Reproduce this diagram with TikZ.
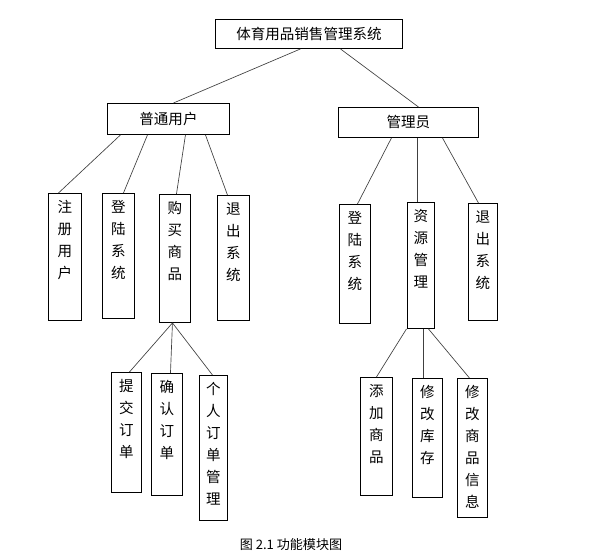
\documentclass[tikz,border=0pt]{standalone}
\usepackage{fontspec}
\usepackage{tikz}
\newfontfamily\cjk{Noto Sans CJK SC}

\newdimen\pxu \pxu=0.75pt
% vertical text column: height, width, lines
\newcommand{\vcol}[3]{\parbox[t][#1\pxu][t]{#2\pxu}{\centering\vspace*{7\pxu}#3}}

\begin{document}
\begin{tikzpicture}[
    x=0.75pt, y=-0.75pt,
    module/.style={draw, line width=0.7pt, inner sep=0pt, anchor=north west},
    boxsize/.style 2 args={minimum width=#1*0.75pt, minimum height=#2*0.75pt},
    headbox/.style={module, font=\cjk\fontsize{10.9}{13}\selectfont},
    leaf/.style={module, font=\cjk\fontsize{10.9}{16.5}\selectfont},
    link/.style={draw=black!75, line width=0.5pt}
]
\useasboundingbox (0,0) rectangle (593,560);

% Head boxes
\node[headbox, boxsize={187}{29}] (title) at (215,19) {体育用品销售管理系统};
\node[headbox, boxsize={122}{31}] (user) at (107,103) {普通用户};
\node[headbox, boxsize={140}{30}] (admin) at (338,107) {管理员};

% User modules
\node[leaf] (register) at (48,193) {\vcol{127}{33}{注\\册\\用\\户}};
\node[leaf] (ulogin) at (102,193) {\vcol{125}{32}{登\\陆\\系\\统}};
\node[leaf] (buy) at (159,194) {\vcol{128}{31}{购\\买\\商\\品}};
\node[leaf] (uexit) at (217,195) {\vcol{125}{32}{退\\出\\系\\统}};

% Admin modules
\node[leaf] (alogin) at (339,204) {\vcol{119}{31}{登\\陆\\系\\统}};
\node[leaf] (resource) at (407,202) {\vcol{126}{27}{资\\源\\管\\理}};
\node[leaf] (aexit) at (468,203) {\vcol{117}{29}{退\\出\\系\\统}};

% Order modules
\node[leaf] (submit) at (111,372) {\vcol{120}{30}{提\\交\\订\\单}};
\node[leaf] (confirm) at (151,373) {\vcol{122}{31}{确\\认\\订\\单}};
\node[leaf] (myorder) at (199,375) {\vcol{145}{28}{个\\人\\订\\单\\管\\理}};

% Resource modules
\node[leaf] (addgoods) at (360,377) {\vcol{118}{32}{添\\加\\商\\品}};
\node[leaf] (stock) at (412,378) {\vcol{119}{30}{修\\改\\库\\存}};
\node[leaf] (editgoods) at (457,378) {\vcol{139}{30}{修\\改\\商\\品\\信\\息}};

% Caption
\node[font=\cjk\fontsize{9.8}{12}\selectfont] (caption) at (291,545) {图 2.1 功能模块图};

% Top level links
\draw[link] ([xshift=-8.5\pxu]title.south) -- ([xshift=5\pxu]user.north);
\draw[link] ([xshift=31.5\pxu]title.south) -- ([xshift=10\pxu]admin.north);

% User links
\draw[link] ([xshift=-48\pxu]user.south) -- ([xshift=-6.5\pxu]register.north);
\draw[link] ([xshift=-21\pxu]user.south) -- ([xshift=5\pxu]ulogin.north);
\draw[link] ([xshift=17\pxu]user.south) -- ([xshift=1.5\pxu]buy.north);
\draw[link] ([xshift=37\pxu]user.south) -- ([xshift=-6\pxu]uexit.north);

% Admin links
\draw[link] ([xshift=-17\pxu]admin.south) -- ([xshift=2.5\pxu]alogin.north);
\draw[link] ([xshift=9\pxu]admin.south) -- ([xshift=-3.5\pxu]resource.north);
\draw[link] ([xshift=34\pxu]admin.south) -- ([xshift=-4.5\pxu]aexit.north);

% Order links
\draw[link] ([xshift=-2.5\pxu]buy.south) -- ([xshift=3\pxu]submit.north);
\draw[link] ([xshift=-2.5\pxu]buy.south) -- ([xshift=3.5\pxu]confirm.north);
\draw[link] ([xshift=-2.5\pxu]buy.south) -- ([xshift=-1\pxu]myorder.north);

% Resource links
\draw[link] ([xshift=-14.5\pxu]resource.south) -- (addgoods.north);
\draw[link] ([xshift=2.5\pxu]resource.south) -- ([xshift=-4\pxu]stock.north);
\draw[link] ([xshift=7.5\pxu]resource.south) -- ([xshift=-3\pxu]editgoods.north);

\end{tikzpicture}
\end{document}
